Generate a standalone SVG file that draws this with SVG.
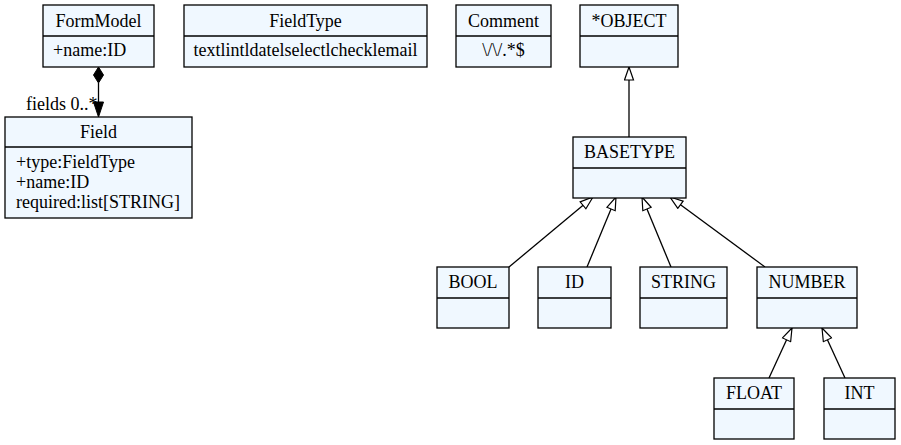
<svg xmlns="http://www.w3.org/2000/svg" width="901" height="445" viewBox="0 0 901 445">
<style>
.box{fill:#f0f8ff;stroke:#000;stroke-width:1.3}
.div{stroke:#000;stroke-width:1.3}
.t{font-family:"Liberation Serif","Times New Roman",serif;font-size:18px;fill:#000}
.c{text-anchor:middle}
.e{fill:none;stroke:#000;stroke-width:1.3}
</style>
<defs>
<marker id="gen" viewBox="0 0 15 11" refX="14" refY="5.5" markerWidth="15" markerHeight="11" markerUnits="userSpaceOnUse" orient="auto">
<path d="M1,1 L14,5.5 L1,10 Z" fill="#fff" stroke="#000" stroke-width="1.2"/>
</marker>
</defs>
<rect width="901" height="445" fill="#fff"/>
<g id="connectors">
<path class="e" d="M629,137 L629,67" marker-end="url(#gen)"/>
<path class="e" d="M509,267 L593,197" marker-end="url(#gen)"/>
<path class="e" d="M587,267 L616,197" marker-end="url(#gen)"/>
<path class="e" d="M671,267 L642,197" marker-end="url(#gen)"/>
<path class="e" d="M765,267 L670,197" marker-end="url(#gen)"/>
<path class="e" d="M769,378 L792,328" marker-end="url(#gen)"/>
<path class="e" d="M845,378 L822,328" marker-end="url(#gen)"/>
<g id="composition">
<path class="e" d="M98.5,83 L98.5,103"/>
<path d="M98.5,67 L103.5,75 L98.5,83 L93.5,75 Z" fill="#000" stroke="#000" stroke-width="1"/>
<path d="M93.5,102 L103.5,102 L98.5,117 Z" fill="#000" stroke="#000" stroke-width="1"/>
<text class="t" x="97.5" y="110" text-anchor="end">fields 0..*</text>
</g>
</g>
<g id="FormModel">
<rect class="box" x="43" y="5" width="111" height="62"/>
<line class="div" x1="43" y1="36" x2="154" y2="36"/>
<text class="t c" x="98.5" y="27">FormModel</text>
<text class="t" x="53" y="56">+name:ID</text>
</g>
<g id="FieldType">
<rect class="box" x="184" y="5" width="243" height="62"/>
<line class="div" x1="184" y1="36" x2="427" y2="36"/>
<text class="t c" x="305.5" y="27">FieldType</text>
<text class="t c" x="305.5" y="56">textlintldatelselectlchecklemail</text>
</g>
<g id="Comment">
<rect class="box" x="456" y="5" width="95" height="62"/>
<line class="div" x1="456" y1="36" x2="551" y2="36"/>
<text class="t c" x="503.5" y="27">Comment</text>
<text class="t c" x="503.5" y="56">\/\/.*$</text>
</g>
<g id="OBJECT">
<rect class="box" x="580" y="5" width="98" height="62"/>
<line class="div" x1="580" y1="36" x2="678" y2="36"/>
<text class="t c" x="629" y="27">*OBJECT</text>
</g>
<g id="Field">
<rect class="box" x="5" y="117" width="187" height="101"/>
<line class="div" x1="5" y1="147" x2="192" y2="147"/>
<text class="t c" x="98.5" y="138">Field</text>
<text class="t" x="16" y="168">+type:FieldType</text>
<text class="t" x="16" y="188">+name:ID</text>
<text class="t" x="16" y="208">required:list[STRING]</text>
</g>
<g id="BASETYPE">
<rect class="box" x="573" y="137" width="113" height="61"/>
<line class="div" x1="573" y1="168" x2="686" y2="168"/>
<text class="t c" x="629.5" y="158">BASETYPE</text>
</g>
<g id="BOOL">
<rect class="box" x="437" y="267" width="72" height="61"/>
<line class="div" x1="437" y1="298" x2="509" y2="298"/>
<text class="t c" x="473" y="288">BOOL</text>
</g>
<g id="ID">
<rect class="box" x="538" y="267" width="73" height="61"/>
<line class="div" x1="538" y1="298" x2="611" y2="298"/>
<text class="t c" x="574.5" y="288">ID</text>
</g>
<g id="STRING">
<rect class="box" x="640" y="267" width="87" height="61"/>
<line class="div" x1="640" y1="298" x2="727" y2="298"/>
<text class="t c" x="683.5" y="288">STRING</text>
</g>
<g id="NUMBER">
<rect class="box" x="757" y="267" width="100" height="61"/>
<line class="div" x1="757" y1="298" x2="857" y2="298"/>
<text class="t c" x="807" y="288">NUMBER</text>
</g>
<g id="FLOAT">
<rect class="box" x="714" y="378" width="80" height="61"/>
<line class="div" x1="714" y1="409" x2="794" y2="409"/>
<text class="t c" x="754" y="399">FLOAT</text>
</g>
<g id="INT">
<rect class="box" x="824" y="378" width="71" height="61"/>
<line class="div" x1="824" y1="409" x2="895" y2="409"/>
<text class="t c" x="859.5" y="399">INT</text>
</g>
</svg>
